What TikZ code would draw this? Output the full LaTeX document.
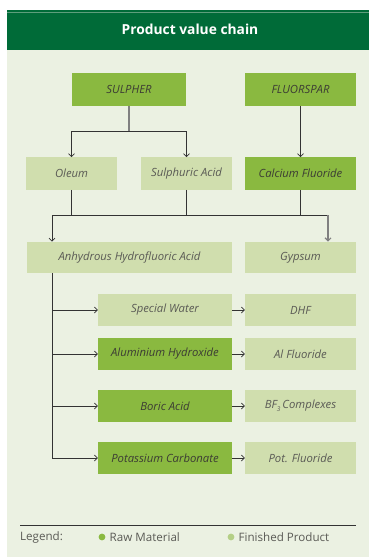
\documentclass[tikz,border=0pt]{standalone}
\usepackage{fontspec}
\setmainfont{Open Sans}
\usetikzlibrary{arrows.meta}
\definecolor{hdgreen}{HTML}{006B38}
\definecolor{hdline}{HTML}{5E9E7C}
\definecolor{panel}{HTML}{EBF1E2}
\definecolor{raw}{HTML}{8AB940}
\definecolor{fin}{HTML}{D0DEAE}
\definecolor{findot}{HTML}{B4CF86}
\definecolor{txt}{HTML}{3C3C34}
\definecolor{ftxt}{HTML}{5A5A55}
\definecolor{wire}{HTML}{333333}

\begin{document}
\begin{tikzpicture}[x=1pt,y=-1pt,
	rawbox/.style={fill=raw, text=txt, minimum height=32.5pt, inner sep=0pt, font=\itshape\fontsize{11.3}{13}\selectfont},
	finbox/.style={fill=fin, text=ftxt, minimum height=32.5pt, inner sep=0pt, font=\itshape\fontsize{11.3}{13}\selectfont},
	legtext/.style={anchor=west, text=ftxt, font=\fontsize{11.6}{13}\selectfont, inner sep=0pt},
	arr/.style={wire, line width=0.7pt, -{Straight Barb[length=3pt,width=6pt]}},
	wr/.style={wire, line width=0.7pt}]
	\useasboundingbox (0,0) rectangle (369,557);
	\fill[panel] (7,50) rectangle (369,557);
	\fill[hdgreen] (7,9.5) rectangle (369,50);
	\draw[hdline, line width=0.8pt] (7,12.3)--(369,12.3);
	\node[text=white, font=\bfseries\fontsize{13.8}{15}\selectfont] (title) at (190,29) {Product value chain};
	% raw materials
	\node[rawbox, minimum width=114pt] (sul) at (129,89.5) {SULPHER};
	\node[rawbox, minimum width=111pt] (flu) at (300.5,89.5) {FLUORSPAR};
	% first products
	\node[finbox, minimum width=91pt] (ole) at (71.5,173.5) {Oleum};
	\node[finbox, minimum width=91pt] (sa) at (186.5,173.5) {Sulphuric Acid};
	\node[rawbox, minimum width=111pt] (caf) at (300.5,173.5) {Calcium Fluoride};
	\node[finbox, minimum width=205pt, minimum height=31.5pt] (ahf) at (129.5,257.5) {Anhydrous Hydrofluoric Acid};
	\node[finbox, minimum width=111pt, minimum height=31.5pt] (gyp) at (300.5,257.5) {Gypsum};
	% derivatives
	\node[finbox, minimum width=134pt] (sw) at (165,310) {Special Water};
	\node[finbox, minimum width=111pt] (dhf) at (300.5,310) {DHF};
	\node[rawbox, minimum width=134pt] (alh) at (165,354) {Aluminium Hydroxide};
	\node[finbox, minimum width=111pt] (alf) at (300.5,354) {Al Fluoride};
	\node[rawbox, minimum width=134pt] (ba) at (165,406) {Boric Acid};
	\node[finbox, minimum width=111pt] (bf) at (300.5,406) {BF\raisebox{-0.35ex}{\fontsize{6.5}{7}\selectfont 3}\,Complexes};
	\node[rawbox, minimum width=134pt] (pc) at (165,458) {Potassium Carbonate};
	\node[finbox, minimum width=111pt] (pf) at (300.5,458) {Pot. Fluoride};
	% connectors
	\coordinate (j1) at (129,131);
	\coordinate (j2) at (52,215);
	\coordinate (j3) at (328,215);
	\draw[wr, draw=gray, line width=1.1pt] (sul.south)--(j1);
	\draw[arr] (j1) -| (ole.north);
	\draw[arr] (j1) -| (sa.north);
	\draw[arr] (flu.south)--(caf.north);
	\draw[wr] (ole.south)--(ole.south |- j2);
	\draw[wr] (sa.south)--(sa.south |- j2);
	\draw[wr] (caf.south)--(caf.south |- j2);
	\draw[wr] (j2)--(j3);
	\draw[arr] (j2)--(j2 |- ahf.north);
	\draw[arr, draw=gray, line width=1.1pt] (j3)--(j3 |- gyp.north);
	\draw[wr] (j2 |- ahf.south)--(j2 |- pc.west);
	\foreach \a/\b in {sw/dhf, alh/alf, ba/bf, pc/pf} {
		\draw[arr] (j2 |- \a.west)--(\a.west);
		\draw[arr] (\a.east)--(\b.west);
	}
	% legend
	\coordinate (l1) at (20,525.3);
	\coordinate (l2) at (356,525.3);
	\draw[wire, line width=0.8pt] (l1)--(l2);
	\node[legtext] (leg) at (20,537.5) {Legend:};
	\fill[raw] (102,537) circle (3.4);
	\node[legtext] (rm) at (109.5,537.5) {Raw Material};
	\fill[findot] (231,537) circle (3.4);
	\node[legtext] (fp) at (238.5,537.5) {Finished Product};
\end{tikzpicture}
\end{document}
